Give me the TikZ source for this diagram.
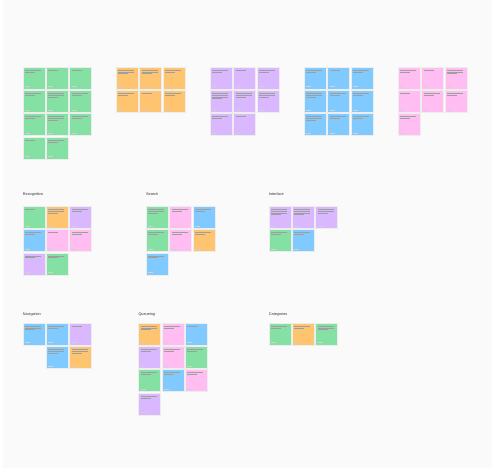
\documentclass[tikz,border=0pt]{standalone}
\usepackage{fontspec}
\setmainfont{Liberation Sans}
\usepackage{tikz}

\definecolor{sgreen}{HTML}{85E0A3}
\definecolor{sorange}{HTML}{FFC470}
\definecolor{spurple}{HTML}{D9B8FF}
\definecolor{sblue}{HTML}{80CAFF}
\definecolor{spink}{HTML}{FFBDF2}
\definecolor{board}{HTML}{FAFAFA}

\tikzset{
  note/.style={draw=black!7, line width=0.3pt, inner sep=0pt, minimum size=22pt, anchor=north west},
  txt/.style={draw=black!38, line width=0.35pt},
  meta/.style={draw=black!18, line width=0.3pt},
  heading/.style={anchor=base west, inner sep=0pt, text=black!80, font=\fontsize{3.8}{4}\selectfont}
}

\begin{document}
\begin{tikzpicture}[x=1pt, y=-1pt]

   \useasboundingbox (0,0) rectangle (495,469);
   \fill[white] (0,0) rectangle (495,469);
   \fill[board] (3,0) rectangle (492,468);

   \foreach \pre/\ox/\oy in {g/22.7/66.7, o/116/66.7, p/210/66.7, b/304/66.7, k/398/66.7,
                             rec/22.7/206, sea/146/206, int/268.7/206,
                             nav/22.7/322.7, que/138.3/322.7, cat/268.7/322.7}
   {
      \path (\ox,\oy) coordinate (\pre);
   }

   \foreach \pre/\col/\row/\c/\l in {
      g/0/0/sgreen/2, g/1/0/sgreen/1, g/2/0/sgreen/1, g/0/1/sgreen/2, g/1/1/sgreen/3, g/2/1/sgreen/2,
      g/0/2/sgreen/2, g/1/2/sgreen/3, g/2/2/sgreen/2, g/0/3/sgreen/1, g/1/3/sgreen/2,
      o/0/0/sorange/3, o/1/0/sorange/3, o/2/0/sorange/2, o/0/1/sorange/2, o/1/1/sorange/1, o/2/1/sorange/2,
      p/0/0/spurple/2, p/1/0/spurple/1, p/2/0/spurple/2, p/0/1/spurple/4, p/1/1/spurple/3, p/2/1/spurple/3,
      p/0/2/spurple/2, p/1/2/spurple/1,
      b/0/0/sblue/2, b/1/0/sblue/1, b/2/0/sblue/2, b/0/1/sblue/3, b/1/1/sblue/2, b/2/1/sblue/2,
      b/0/2/sblue/3, b/1/2/sblue/2, b/2/2/sblue/2,
      k/0/0/spink/2, k/1/0/spink/1, k/2/0/spink/3, k/0/1/spink/1, k/1/1/spink/2, k/2/1/spink/2, k/0/2/spink/2,
      rec/0/0/sgreen/1, rec/1/0/sorange/3, rec/2/0/spurple/2, rec/0/1/sblue/2, rec/1/1/spink/1, rec/2/1/spink/2,
      rec/0/2/spurple/2, rec/1/2/sgreen/2,
      sea/0/0/sgreen/3, sea/1/0/spink/2, sea/2/0/sblue/2, sea/0/1/sgreen/2, sea/1/1/spink/2, sea/2/1/sorange/2,
      sea/0/2/sblue/2,
      int/0/0/spurple/4, int/1/0/spurple/4, int/2/0/spurple/3, int/0/1/sgreen/2, int/1/1/sblue/2,
      nav/0/0/sblue/3, nav/1/0/sblue/2, nav/2/0/spurple/1, nav/1/1/sblue/3, nav/2/1/sorange/3,
      que/0/0/sorange/3, que/1/0/spink/2, que/2/0/sblue/1, que/0/1/spurple/2, que/1/1/spink/2, que/2/1/sgreen/2,
      que/0/2/sgreen/2, que/1/2/sblue/2, que/2/2/spink/2, que/0/3/spurple/2,
      cat/0/0/sgreen/2, cat/1/0/sorange/2, cat/2/0/sgreen/3}
   {
      \node[note, fill=\c] (\pre\col\row) at ([shift={(\col*23.33,\row*23.33)}]\pre) {};
      \foreach \k in {1,...,\l}
      {
         \pgfmathsetmacro\w{\k<\l ? 16 : 10}
         \draw[txt] ([xshift=2.2pt, yshift={-(1.6+1.7*\k)*1pt}]\pre\col\row.north west) -- ++(\w,0);
      }
      \draw[meta] ([xshift=2.2pt, yshift=2.5pt]\pre\col\row.south west) -- ++(5,0);
   }

   \node[heading] (hRec) at (22.7,195.8) {Recognition};
   \node[heading] (hSea) at (146,195.8) {Search};
   \node[heading] (hInt) at (268.7,195.8) {Interface};
   \node[heading] (hNav) at (22.7,315.8) {Navigation};
   \node[heading] (hQue) at (138.3,315.8) {Queueing};
   \node[heading] (hCat) at (268.7,315.8) {Categories};
\end{tikzpicture}
\end{document}
